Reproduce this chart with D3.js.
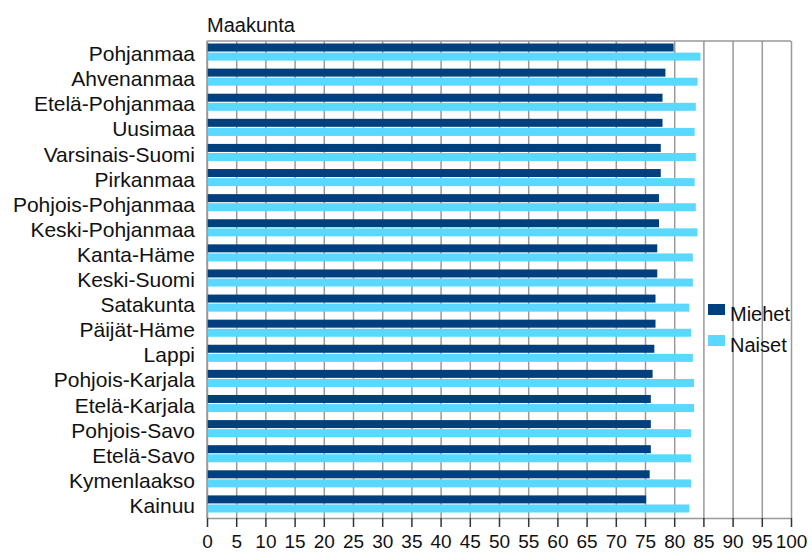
<!DOCTYPE html>
<html>
<head>
<meta charset="utf-8">
<script src="https://cdn.jsdelivr.net/npm/d3@7"></script>
<style>
  body { margin: 0; background: #fff; }
  svg { display: block; font-family: "Liberation Sans", Arial, sans-serif; }
  .grid line { stroke: #999; stroke-width: 1.5; }
  .grid path { display: none; }
  .xaxis path { stroke: #999; stroke-width: 1.5; }
  .xaxis line { stroke: #333; stroke-width: 1.5; }
  .xaxis text { font-size: 19px; fill: #111; }
</style>
</head>
<body>
<div id="chart"></div>
<script>
const width = 812;
const height = 552;
const margin = {top: 41, right: 21, bottom: 34, left: 207};
const plotW = width - margin.left - margin.right;
const plotH = height - margin.top - margin.bottom;

// data
const regions = ["Pohjanmaa", "Ahvenanmaa", "Etelä-Pohjanmaa", "Uusimaa", "Varsinais-Suomi",
  "Pirkanmaa", "Pohjois-Pohjanmaa", "Keski-Pohjanmaa", "Kanta-Häme", "Keski-Suomi",
  "Satakunta", "Päijät-Häme", "Lappi", "Pohjois-Karjala", "Etelä-Karjala",
  "Pohjois-Savo", "Etelä-Savo", "Kymenlaakso", "Kainuu"];
const miehet = [79.9, 78.5, 78.0, 78.0, 77.7, 77.7, 77.4, 77.4, 77.1, 77.1,
  76.8, 76.8, 76.6, 76.3, 76.0, 76.0, 76.0, 75.8, 75.2];
const naiset = [84.5, 84.0, 83.7, 83.5, 83.7, 83.5, 83.7, 84.0, 83.2, 83.2,
  82.6, 82.9, 83.2, 83.4, 83.4, 82.9, 82.9, 82.9, 82.6];
const seriesNames = ["Miehet", "Naiset"];
const colors = ["#00407e", "#5ad8ff"];
const xTicks = d3.range(0, 101, 5);

const svg = d3.select("#chart").append("svg")
    .attr("width", width)
    .attr("height", height);

const g = svg.append("g")
    .attr("transform", `translate(${margin.left},${margin.top})`);

//----------------------------SCALES----------------------------//
const x = d3.scaleLinear().domain([0, 100]).range([0, plotW]);
const y0 = d3.scaleBand().domain(regions).range([0, plotH]);
const y1 = d3.scaleBand().domain(seriesNames)
    .range([2.5, y0.bandwidth() - 5.5])
    .paddingInner(0.12);

//-----------------------------GRID-----------------------------//
g.append("g")
    .attr("class", "grid")
    .call(d3.axisBottom(x).tickValues(xTicks).tickSize(plotH).tickFormat(""));

g.append("line")
    .attr("x1", 0).attr("x2", plotW)
    .attr("y1", 0).attr("y2", 0)
    .attr("stroke", "#999").attr("stroke-width", 1.5);

//-----------------------------BARS-----------------------------//
const rows = regions.map((r, i) => ({region: r, values: [miehet[i], naiset[i]]}));

const groups = g.selectAll(".row")
    .data(rows)
    .join("g")
    .attr("class", "row")
    .attr("transform", d => `translate(0,${y0(d.region)})`);

groups.selectAll("rect")
    .data(d => d.values.map((v, k) => ({key: seriesNames[k], value: v, k: k})))
    .join("rect")
    .attr("x", x(0))
    .attr("y", d => y1(d.key))
    .attr("width", d => x(d.value) - x(0))
    .attr("height", y1.bandwidth())
    .attr("fill", d => colors[d.k]);

//-----------------------------AXES-----------------------------//
g.append("g")
    .attr("class", "xaxis")
    .attr("transform", `translate(0,${plotH})`)
    .call(d3.axisBottom(x).tickValues(xTicks).tickSize(9).tickPadding(8).tickSizeOuter(0));

g.append("line")
    .attr("x1", 0).attr("x2", 0)
    .attr("y1", 0).attr("y2", plotH)
    .attr("stroke", "#999").attr("stroke-width", 1.5);

g.selectAll(".ylabel")
    .data(regions)
    .join("text")
    .attr("class", "ylabel")
    .attr("x", -12)
    .attr("y", d => y0(d) + y0.bandwidth() / 2)
    .attr("dy", "0.36em")
    .attr("text-anchor", "end")
    .style("font-size", "21px")
    .attr("fill", "#111")
    .text(d => d);

svg.append("text")
    .attr("x", margin.left)
    .attr("y", 32)
    .style("font-size", "20px")
    .attr("fill", "#111")
    .text("Maakunta");

//----------------------------LEGEND----------------------------//
const legend = svg.append("g")
    .attr("transform", "translate(708,304)");

const items = legend.selectAll("g")
    .data(seriesNames)
    .join("g")
    .attr("transform", (d, i) => `translate(0,${i * 31})`);

items.append("rect")
    .attr("width", 17)
    .attr("height", 11)
    .attr("fill", (d, i) => colors[i]);

items.append("text")
    .attr("x", 22)
    .attr("y", 17)
    .style("font-size", "20px")
    .attr("fill", "#111")
    .text(d => d);
</script>
</body>
</html>
